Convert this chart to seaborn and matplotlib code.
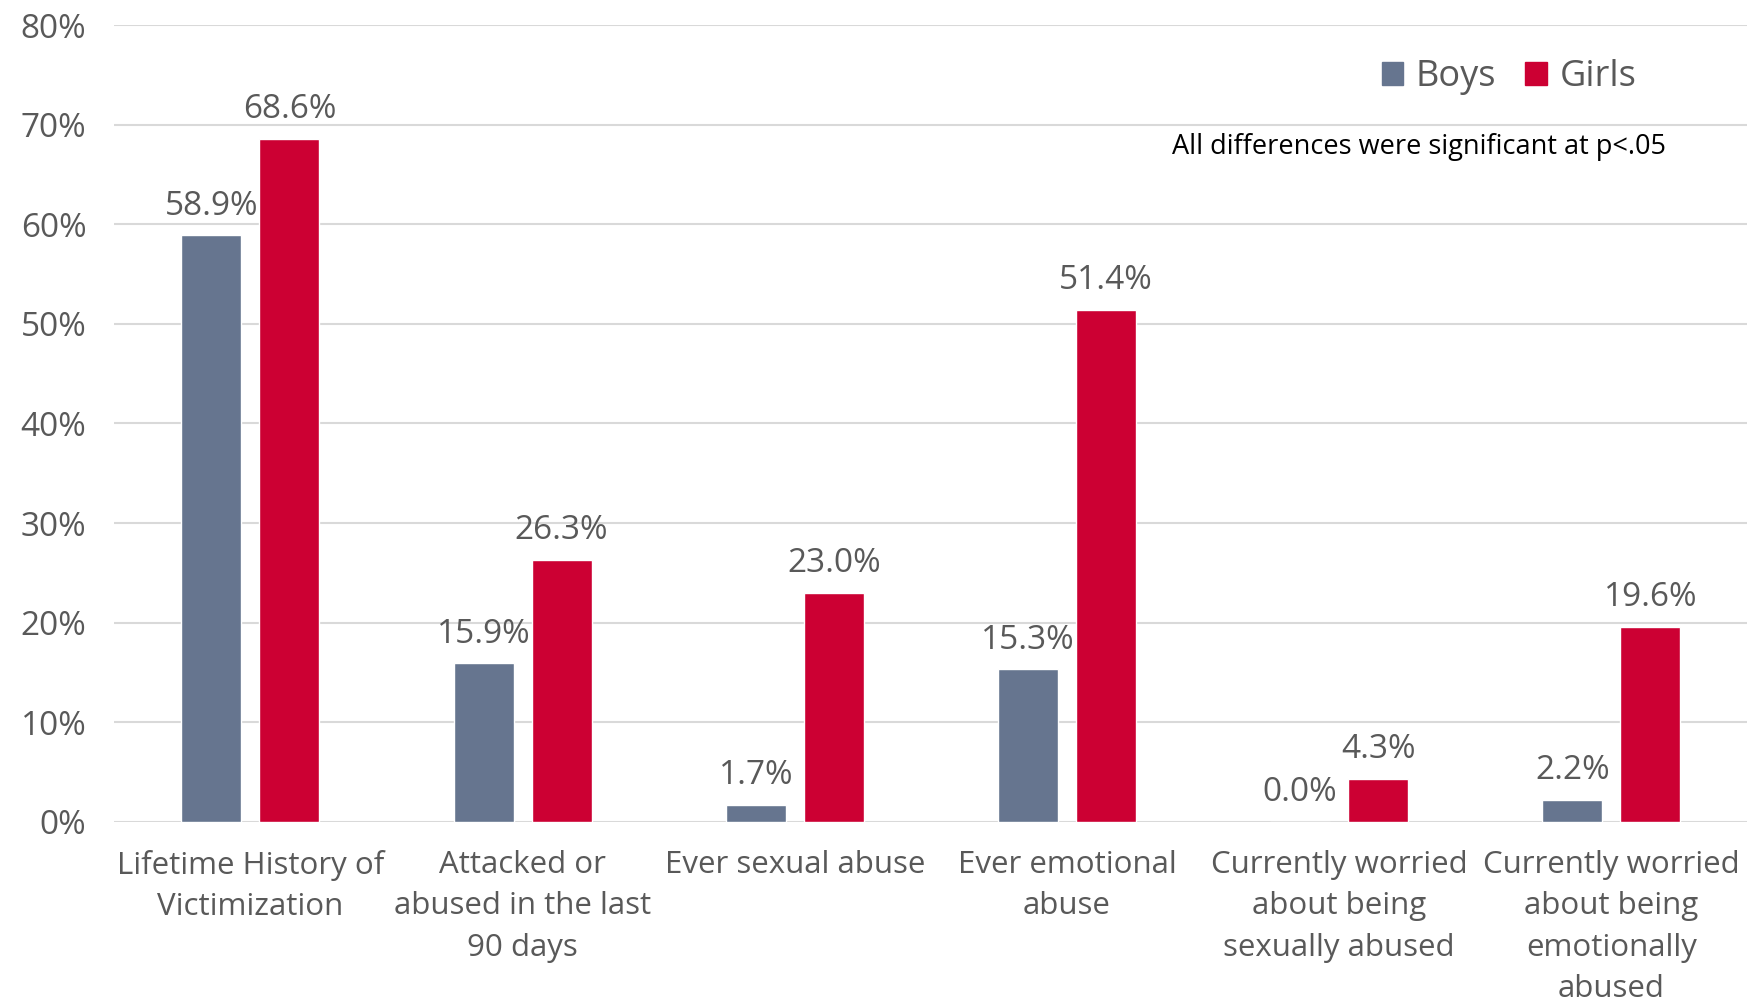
import matplotlib.pyplot as plt
import seaborn as sns
import pandas as pd
from matplotlib.patches import Patch
from matplotlib.ticker import FuncFormatter

# --- data ---
categories = ["Lifetime History of\nVictimization",
              "Attacked or\nabused in the last\n90 days",
              "Ever sexual abuse",
              "Ever emotional\nabuse",
              "Currently worried\nabout being\nsexually abused",
              "Currently worried\nabout being\nemotionally\nabused"]
boys = [58.9, 15.9, 1.7, 15.3, 0.0, 2.2]
girls = [68.6, 26.3, 23.0, 51.4, 4.3, 19.6]
groups = ["Boys", "Girls"]
colors = {"Boys": "#66758F", "Girls": "#CC0033"}
note = "All differences were significant at p<.05"

df = pd.DataFrame({
    "category": categories * 2,
    "group": ["Boys"] * len(boys) + ["Girls"] * len(girls),
    "value": boys + girls,
})

sns.set_style("white")
plt.rcParams["font.family"] = ["Open Sans", "DejaVu Sans"]
text_color = "#595959"

fig = plt.figure(figsize=(17.58, 10.01), dpi=100)
ax = fig.add_axes([0.065, 0.179, 0.929, 0.796])

sns.barplot(data=df, x="category", y="value", hue="group", hue_order=groups,
            palette=colors, width=0.573, gap=0.232, saturation=1,
            legend=False, ax=ax)

for cont in ax.containers:
    ax.bar_label(cont, fmt="%.1f%%", padding=9, fontsize=24, color=text_color)

ax.set_ylim(0, 80)
ax.set_yticks(range(0, 81, 10))
ax.yaxis.set_major_formatter(FuncFormatter(lambda v, _: f"{v:.0f}%"))
ax.grid(axis="y", color="#D9D9D9", linewidth=1.5)
ax.set_axisbelow(True)
for s in ["top", "right", "left", "bottom"]:
    ax.spines[s].set_visible(False)
ax.axhline(0, color="#D9D9D9", linewidth=2, zorder=0.5)
ax.set_xlim(-0.5, len(categories) - 0.5)
ax.tick_params(axis="x", length=0, labelsize=22.5, colors=text_color, pad=20)
ax.tick_params(axis="y", length=0, labelsize=24, colors=text_color, pad=20)
ax.set_xlabel("")
ax.set_ylabel("")
for lbl in ax.get_xticklabels():
    lbl.set_linespacing(1.5)

handles = [Patch(color=colors[g]) for g in groups]
ax.legend(handles, groups, loc="center right", bbox_to_anchor=(0.952, 0.935),
          ncol=2, frameon=False, fontsize=26, labelcolor=text_color,
          handlelength=0.6, handleheight=0.6, handletextpad=0.35,
          columnspacing=0.8)
ax.text(0.95, 0.847, note, transform=ax.transAxes, ha="right", va="center",
        fontsize=19.5, color="black")

plt.savefig("out.png", dpi=100)
